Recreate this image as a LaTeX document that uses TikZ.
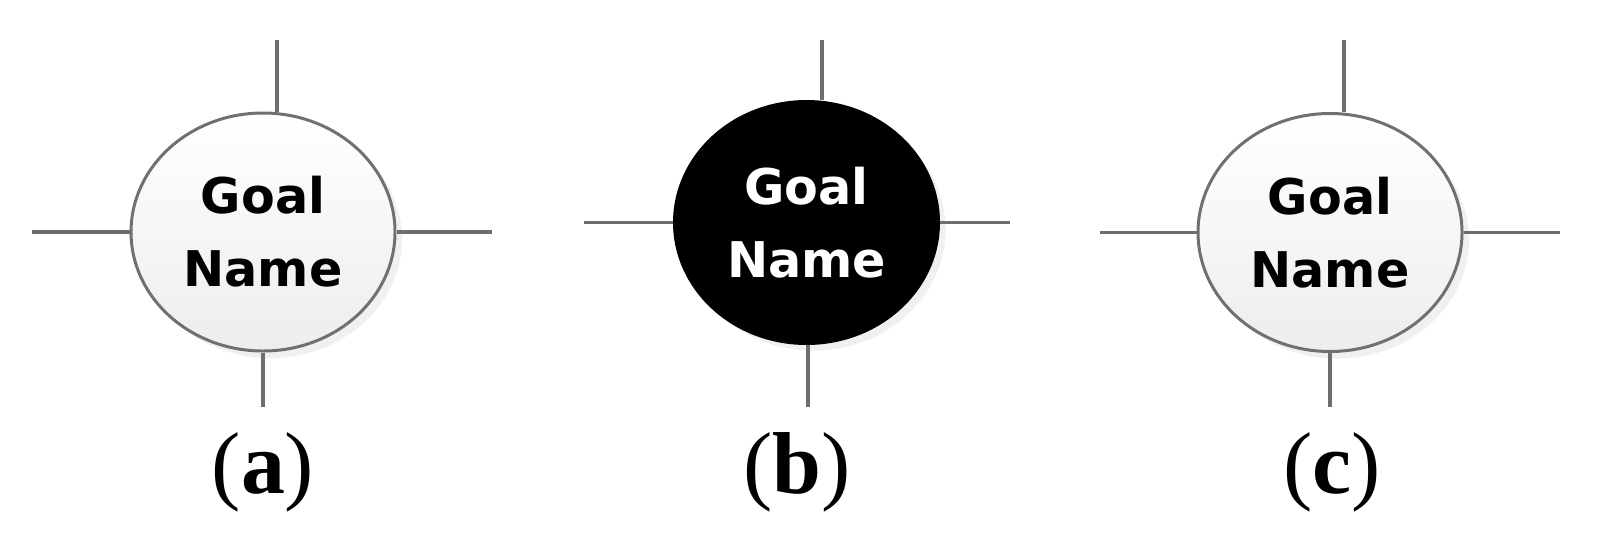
\documentclass[tikz,border=0pt]{standalone}
\usepackage{fontspec}
\newfontfamily\capfont{Liberation Serif}
\newfontfamily\goalfont{DejaVu Sans}
\usetikzlibrary{shapes.geometric,positioning,calc,shadows}

\definecolor{stubgray}{HTML}{6E6E6E}
\definecolor{rimgray}{HTML}{707070}

\begin{document}
\begin{tikzpicture}[
    goal/.style={ellipse, draw=rimgray, line width=0.85pt, top color=white, bottom color=black!7,
        minimum width=2.64cm, minimum height=2.38cm, inner sep=0pt, align=center,
        font=\goalfont\bfseries\fontsize{14}{20.8}\selectfont,
        drop shadow={opacity=0.12, shadow xshift=2pt, shadow yshift=-2pt}},
    goaldark/.style={goal, draw=black, fill=black, top color=black, bottom color=black,
        text=white, minimum height=2.42cm},
    stub/.style={draw=stubgray, line width=1.1pt},
    caption/.style={font=\capfont\fontsize{25}{30}\selectfont}
]
    \useasboundingbox (0,0) rectangle (16,5.39);

    % goal symbols
    \node[goal] (ga) at (2.63,3.07) {Goal\\Name};
    \node[goaldark] (gb) at (8.065,3.165) {Goal\\Name};
    \node[goal] (gc) at (13.30,3.065) {Goal\\Name};

    % free ends of the stubs
    \coordinate (atop) at (2.77,4.99);
    \coordinate (abot) at (2.63,1.32);
    \coordinate (alft) at (0.32,3.07);
    \coordinate (argt) at (4.92,3.07);
    \coordinate (btop) at (8.22,4.99);
    \coordinate (bbot) at (8.08,1.32);
    \coordinate (blft) at (5.84,3.165);
    \coordinate (brgt) at (10.10,3.165);
    \coordinate (ctop) at (13.44,4.99);
    \coordinate (cbot) at (13.30,1.32);
    \coordinate (clft) at (11.00,3.065);
    \coordinate (crgt) at (15.60,3.065);

    \draw[stub] (atop) -- (atop |- ga.north);
    \draw[stub] (abot |- ga.south) -- (abot);
    \draw[stub] (alft) -- (ga.west);
    \draw[stub] (ga.east) -- (argt);
    \draw[stub] (btop) -- (btop |- gb.north);
    \draw[stub] (bbot |- gb.south) -- (bbot);
    \draw[stub] (blft) -- (gb.west);
    \draw[stub] (gb.east) -- (brgt);
    \draw[stub] (ctop) -- (ctop |- gc.north);
    \draw[stub] (cbot |- gc.south) -- (cbot);
    \draw[stub] (clft) -- (gc.west);
    \draw[stub] (gc.east) -- (crgt);

    % captions
    \node[caption] (capa) at (2.63,0.67) {(\textbf{a})};
    \node[caption] (capb) at (7.97,0.67) {(\textbf{b})};
    \node[caption] (capc) at (13.32,0.67) {(\textbf{c})};
\end{tikzpicture}
\end{document}
